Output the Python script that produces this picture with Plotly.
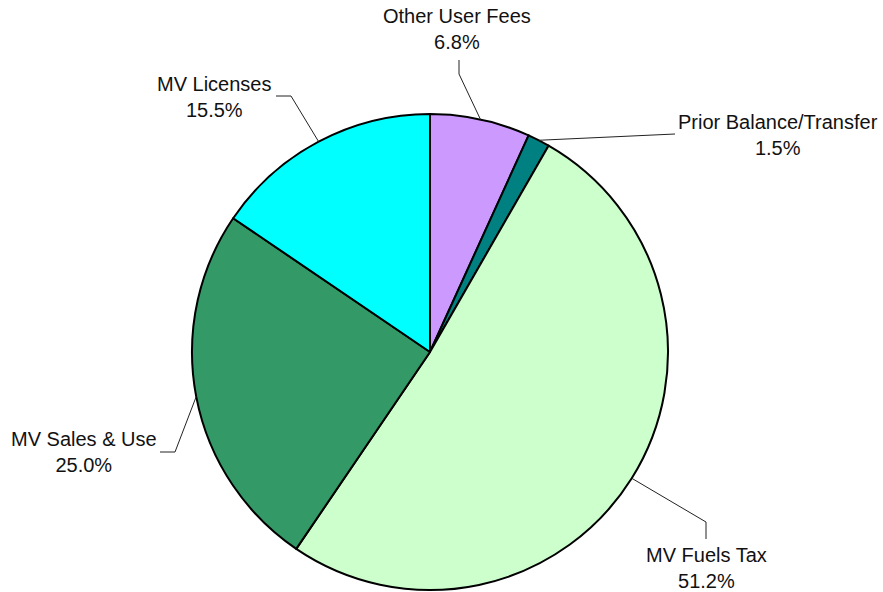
import math
import plotly.graph_objects as go

labels = ["Other User Fees", "Prior Balance/Transfer", "MV Fuels Tax", "MV Sales & Use", "MV Licenses"]
values = [6.8, 1.5, 51.2, 25.0, 15.5]
colors = ["#CC99FF", "#008080", "#CCFFCC", "#339966", "#00FFFF"]

W, H = 883, 592
CX, CY, R = 430, 352, 238  # pie centre/radius in pixels

# label centres (pixels) and leader-line elbow points (pixels)
label_pos = [(457, 29), (778, 135), (706, 568), (84, 452), (214, 97)]
elbows = [[(459, 60), (459, 74)],
          [(675, 134)],
          [(706, 539), (706, 522)],
          [(160, 452), (175, 452)],
          [(276, 96), (291, 96)]]

def px(x):
    return x / W

def py(y):
    return 1 - y / H

fig = go.Figure(go.Pie(
    labels=labels, values=values, sort=False, direction="clockwise", rotation=0,
    marker=dict(colors=colors, line=dict(color="black", width=2)),
    textinfo="none", hoverinfo="label+percent",
    domain=dict(x=[px(CX - R), px(CX + R)], y=[py(CY + R), py(CY - R)]),
    showlegend=False,
))

total = sum(values)
cum = 0.0
shapes = []
annotations = []
for i, (lab, v) in enumerate(zip(labels, values)):
    mid = (cum + v / 2) / total * 2 * math.pi
    cum += v
    ex = CX + R * math.sin(mid)
    ey = CY - R * math.cos(mid)
    pts = elbows[i] + [(ex, ey)]
    for (x0, y0), (x1, y1) in zip(pts[:-1], pts[1:]):
        shapes.append(dict(type="line", xref="paper", yref="paper",
                           x0=px(x0), y0=py(y0), x1=px(x1), y1=py(y1),
                           line=dict(color="#222222", width=1)))
    lx, ly = label_pos[i]
    annotations.append(dict(
        x=px(lx), y=py(ly), xref="paper", yref="paper", showarrow=False,
        xanchor="center", yanchor="middle", align="center",
        text=f"{lab}<br>{v:.1f}%",
        font=dict(family="Arial, Liberation Sans, sans-serif", size=20, color="#111111"),
    ))

fig.update_layout(
    width=W, height=H, margin=dict(l=0, r=0, t=0, b=0),
    paper_bgcolor="white", plot_bgcolor="white",
    shapes=shapes, annotations=annotations,
)
fig.write_html("out.html", config={"displayModeBar": False},
               post_script="document.body.style.margin='0';document.body.style.overflow='hidden';")
